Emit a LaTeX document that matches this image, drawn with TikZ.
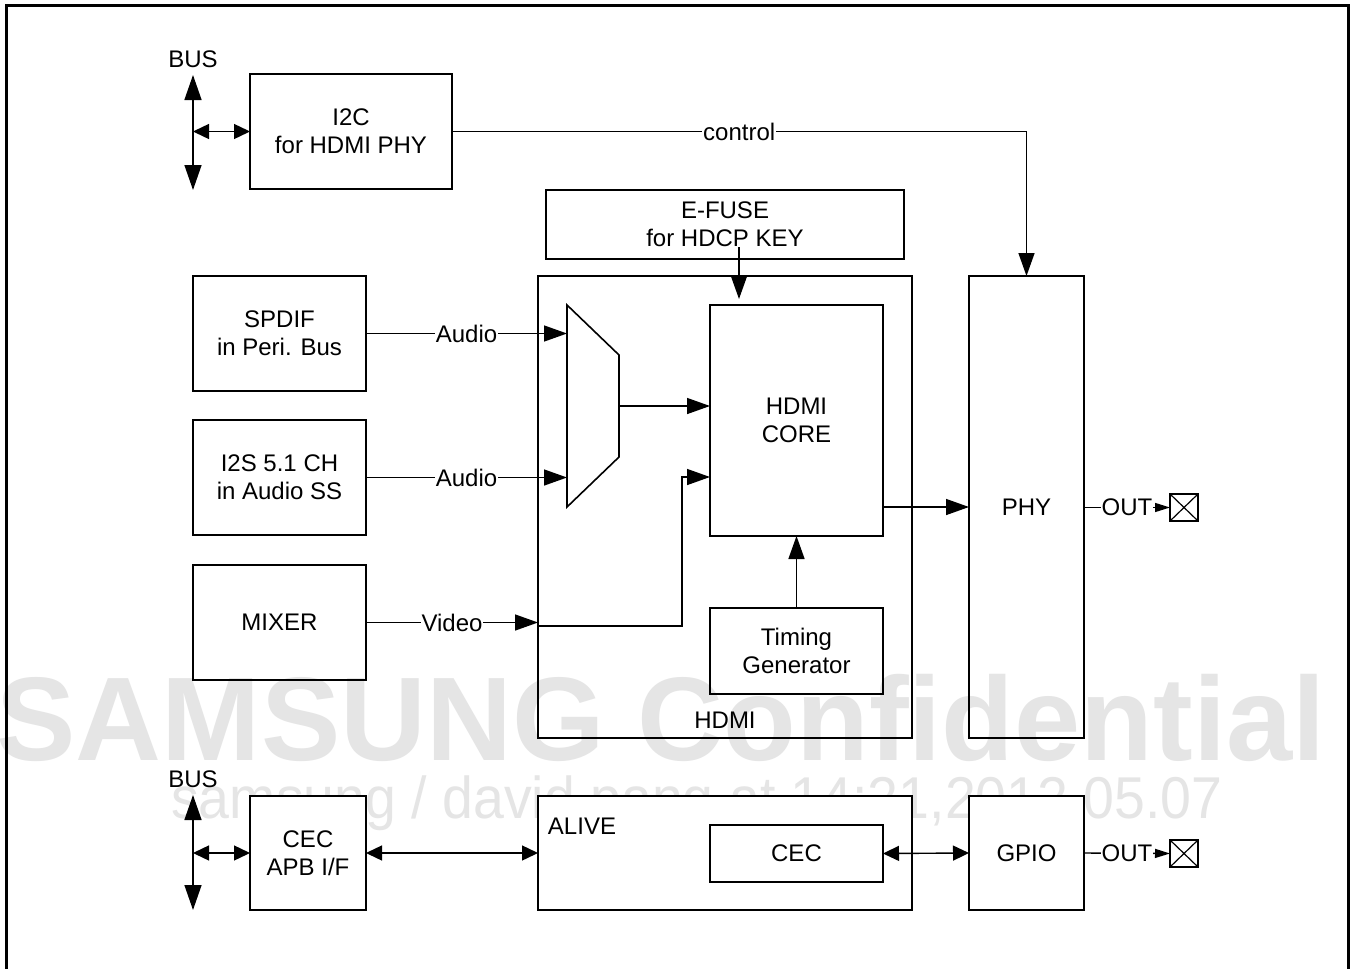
\documentclass[tikz,border=0pt]{standalone}
\usepackage{fontspec}
\setmainfont{Liberation Sans}
\usetikzlibrary{arrows.meta}
\begin{document}
\begin{tikzpicture}[x=1pt,y=-1pt,
  box/.style={draw, line width=1.6pt, inner sep=0pt, outer sep=0pt, anchor=north west, align=center, font=\fontsize{24}{28}\selectfont},
  wbox/.style={box, fill=white},
  txt/.style={inner sep=0pt, font=\fontsize{24}{28}\selectfont},
  lbl/.style={fill=white, inner xsep=1pt, inner ysep=0pt, font=\fontsize{24}{28}\selectfont},
  conn/.style={line width=1.4pt},
  big/.style={conn, -{Triangle[length=23pt,width=16pt]}},
  midboth/.style={conn, {Triangle[length=16pt,width=15pt]}-{Triangle[length=16pt,width=15pt]}},
  busboth/.style={conn, {Triangle[length=25pt,width=17pt]}-{Triangle[length=25pt,width=17pt]}},
  outarr/.style={conn, -{Triangle[length=15pt,width=9pt]}},
  wm/.style={inner sep=0pt, anchor=base, text=black!10}
]
\useasboundingbox (0,0) rectangle (1353,969);
\fill[white] (0,0) rectangle (1353,969);

% watermark
\node[wm, font=\fontsize{119}{130}\selectfont\bfseries] (wm1) at (661,760) {SAMSUNG Confidential};
\node[wm, font=\fontsize{59}{64}\selectfont] (wm2) at (697,818) {\scalebox{0.94}[1]{samsung / david.pang at 14:21,2012.05.07}};

% outer frame
\draw[line width=3pt] (6,969) -- (6,5) -- (1348,5) -- (1348,969);

% top row
\node[txt] (bus1) at (193,59) {BUS};
\coordinate (bus1t) at (193,75);
\coordinate (bus1b) at (193,190);
\coordinate (bus1m) at (193,131.5);
\node[box, minimum width=202pt, minimum height=115pt] (i2c) at (250,74) {I2C\\for HDMI PHY};
\node[box, minimum width=358pt, minimum height=69pt] (efuse) at (546,190) {E-FUSE\\for HDCP KEY};

% main blocks
\node[box, minimum width=374pt, minimum height=462pt] (hdmi) at (538,276) {};
\node[txt] (hdmilbl) at (725,720) {HDMI};
\node[box, minimum width=115pt, minimum height=462pt] (phy) at (969,276) {PHY};
\node[box, minimum width=173pt, minimum height=115pt] (spdif) at (193,276) {SPDIF\\in Peri. Bus};
\node[box, minimum width=173pt, minimum height=115pt] (i2s) at (193,420) {I2S 5.1 CH\\in Audio SS};
\node[box, minimum width=173pt, minimum height=115pt] (mixer) at (193,565) {MIXER};
\node[box, minimum width=173pt, minimum height=231pt] (core) at (710,305) {HDMI\\CORE};
\node[box, minimum width=173pt, minimum height=86pt] (tg) at (710,608) {Timing\\Generator};

% mux
\coordinate (muxtl) at (567,305);
\coordinate (muxtr) at (619,355);
\coordinate (muxbr) at (619,457);
\coordinate (muxbl) at (567,507);
\draw[line width=1.6pt, line join=miter] (muxtl) -- (muxtr) -- (muxbr) -- (muxbl) -- cycle;
\coordinate (muxout) at (619,406);
\coordinate (corein2) at (710,477);
\coordinate (vidin) at (538,626);
\coordinate (coreout) at (883,507);
\coordinate (efin) at (739,247);

% out terminals
\node[box, minimum width=28pt, minimum height=27pt, line width=1.3pt] (x1) at (1170,494) {};
\draw[line width=1.2pt] (x1.north west) -- (x1.south east) (x1.north east) -- (x1.south west);

% bottom row
\node[txt] (bus2) at (193,779) {BUS};
\coordinate (bus2t) at (193,795);
\coordinate (bus2b) at (193,910);
\coordinate (bus2m) at (193,853);
\node[wbox, minimum width=116pt, minimum height=114pt] (cecapb) at (250,796) {CEC\\APB I/F};
\node[wbox, minimum width=374pt, minimum height=114pt] (alive) at (538,796) {};
\node[txt] (alivelbl) at (582,826) {ALIVE};
\node[wbox, minimum width=173pt, minimum height=57pt] (cec) at (710,825) {CEC};
\node[wbox, minimum width=115pt, minimum height=114pt] (gpio) at (969,796) {GPIO};
\node[box, minimum width=28pt, minimum height=27pt, line width=1.3pt] (x2) at (1170,840) {};
\draw[line width=1.2pt] (x2.north west) -- (x2.south east) (x2.north east) -- (x2.south west);

% connectors top
\draw[busboth] (bus1t) -- (bus1b);
\draw[midboth] (bus1m) -- (i2c.west);
\draw[big] (i2c.east) -- node[lbl]{control} (i2c.east -| phy.north) -- (phy.north);
\draw[big, shorten >=6pt] (efin) -- (efin |- core.north);
\draw[big] (spdif.east) -- node[lbl]{Audio} (spdif.east -| muxtl);
\draw[big] (i2s.east) -- node[lbl]{Audio} (i2s.east -| muxtl);
\draw[big] (muxout) -- (muxout -| core.west);
\draw[big] (mixer.east) -- node[lbl]{Video} (mixer.east -| hdmi.west);
\draw[big] (vidin) -| ([xshift=-28pt]corein2) -- (corein2);
\draw[big] (tg.north) -- (core.south);
\draw[big] (coreout) -- (coreout -| phy.west);
\draw[outarr] (x1.west -| phy.east) -- node[lbl]{OUT} (x1.west);

% connectors bottom
\draw[busboth] (bus2t) -- (bus2b);
\draw[midboth] (bus2m) -- (cecapb.west);
\draw[midboth] (cecapb.east) -- (alive.west);
\draw[midboth] (cec.east) -- (gpio.west);
\draw[outarr] (gpio.east) -- node[lbl]{OUT} (x2.west);
\end{tikzpicture}
\end{document}
